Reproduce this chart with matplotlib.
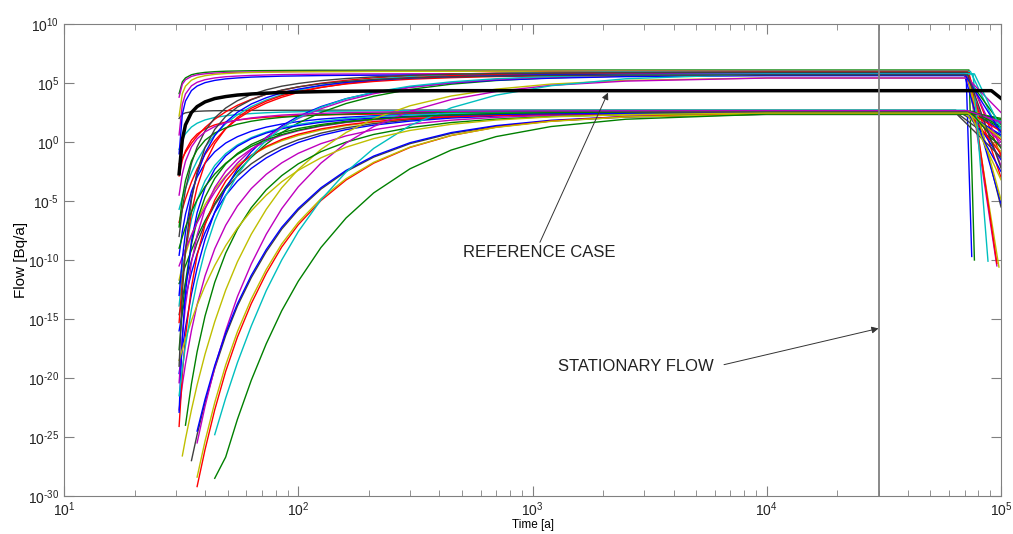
import numpy as np
import matplotlib.pyplot as plt
from matplotlib.ticker import NullLocator, FuncFormatter

plt.rcParams['font.family'] = ['Liberation Sans', 'DejaVu Sans']
plt.rcParams['axes.unicode_minus'] = False

# shared time grid [a]; curve values are log10(flow [Bq/a]), None = not started yet
t_grid = [31, 32, 33, 35, 37, 40, 44, 49, 55, 63, 73, 85, 100, 125, 160, 210,
          300, 450, 700, 1200, 2500, 10000]
N = None

curve_colors = ['g', 'm', 'y', 'k', 'm', 'c', 'b', 'r', 'r', 'c', 'r', 'k',
                'b', 'y', 'g', 'c', 'k', 'r', 'b', 'g', 'b', 'm', 'm', 'r',
                'b', 'y', 'g', 'k', 'm', 'b', 'r', 'y', 'c', 'g',
                'g', 'm', 'b', 'y', 'c', 'g', 'm', 'k']

rise_log = [
    [4.1, 5.1, 5.43, 5.7, 5.81, 5.9, 5.96, 6.0, 6.02, 6.04, 6.05, 6.06, 6.07, 6.08, 6.08, 6.09, 6.09, 6.1, 6.1, 6.1, 6.1, 6.1],
    [3.8, 4.9, 5.27, 5.56, 5.69, 5.78, 5.84, 5.88, 5.91, 5.93, 5.95, 5.96, 5.97, 5.98, 5.98, 5.99, 5.99, 6.0, 6.0, 6.0, 6.0, 6.0],
    [2.2, 4.1, 4.73, 5.24, 5.46, 5.62, 5.73, 5.8, 5.85, 5.89, 5.91, 5.93, 5.95, 5.96, 5.97, 5.98, 5.99, 5.99, 6.0, 6.0, 6.0, 6.0],
    [2.0, 2.35, 2.47, 2.56, 2.6, 2.63, 2.65, 2.66, 2.67, 2.68, 2.68, 2.69, 2.69, 2.7, 2.7, 2.7, 2.7, 2.7, 2.7, 2.7, 2.7, 2.7],
    [0.6, 3.2, 4.07, 4.76, 5.06, 5.28, 5.43, 5.53, 5.59, 5.64, 5.68, 5.71, 5.73, 5.75, 5.76, 5.77, 5.78, 5.79, 5.79, 5.8, 5.8, 5.8],
    [-0.63, 0.2, 0.7, 1.27, 1.59, 1.87, 2.08, 2.22, 2.33, 2.41, 2.48, 2.53, 2.56, 2.6, 2.62, 2.65, 2.66, 2.68, 2.69, 2.69, 2.7, 2.7],
    [-1.0, 2.35, 3.47, 4.36, 4.74, 5.03, 5.22, 5.35, 5.43, 5.5, 5.54, 5.58, 5.6, 5.63, 5.65, 5.66, 5.68, 5.68, 5.69, 5.69, 5.7, 5.7],
    [-2.88, -1.55, -0.75, 0.16, 0.67, 1.12, 1.45, 1.69, 1.86, 1.99, 2.1, 2.17, 2.23, 2.29, 2.33, 2.36, 2.39, 2.41, 2.43, 2.44, 2.45, 2.45],
    [-1.86, -1.33, -0.88, -0.11, 0.5, 1.22, 1.93, 2.56, 3.11, 3.61, 4.04, 4.38, 4.67, 4.98, 5.23, 5.43, 5.61, 5.75, 5.84, 5.91, 5.96, 5.99],
    [-5.7, -4.75, -3.92, -2.6, -1.59, -0.45, 0.62, 1.55, 2.31, 3.0, 3.56, 4.01, 4.39, 4.77, 5.08, 5.32, 5.54, 5.7, 5.81, 5.89, 5.95, 5.99],
    [-6.8, -5.71, -4.82, -3.39, -2.28, -1.05, 0.11, 1.12, 1.95, 2.69, 3.3, 3.79, 4.2, 4.62, 4.95, 5.21, 5.45, 5.62, 5.74, 5.83, 5.89, 5.94],
    [-8.0, -5.68, -4.03, -1.82, -0.42, 0.94, 2.04, 2.88, 3.5, 4.02, 4.42, 4.73, 4.96, 5.2, 5.38, 5.52, 5.65, 5.74, 5.8, 5.84, 5.87, 5.9],
    [-9.6, -7.58, -6.13, -4.2, -2.97, -1.79, -0.83, -0.09, 0.45, 0.91, 1.26, 1.52, 1.73, 1.94, 2.1, 2.22, 2.33, 2.41, 2.46, 2.5, 2.53, 2.55],
    [-11.7, -10.5, -9.5, -7.9, -6.67, -5.3, -4.0, -2.88, -1.96, -1.13, -0.45, 0.1, 0.55, 1.01, 1.39, 1.68, 1.94, 2.14, 2.27, 2.37, 2.44, 2.48],
    [-12.0, -11.22, -10.48, -9.17, -8.05, -6.67, -5.22, -3.8, -2.53, -1.3, -0.18, 0.79, 1.61, 2.5, 3.26, 3.88, 4.46, 4.9, 5.21, 5.44, 5.6, 5.71],
    [-13.9, -11.15, -9.19, -6.57, -4.9, -3.29, -1.99, -0.99, -0.25, 0.37, 0.84, 1.21, 1.49, 1.77, 1.98, 2.15, 2.3, 2.41, 2.48, 2.53, 2.57, 2.59],
    [-14.63, -13.19, -11.98, -10.05, -8.56, -6.9, -5.33, -3.97, -2.86, -1.85, -1.02, -0.36, 0.19, 0.75, 1.2, 1.56, 1.88, 2.11, 2.27, 2.39, 2.47, 2.53],
    [-15.3, -11.8, -9.3, -5.97, -3.84, -1.8, -0.14, 1.13, 2.08, 2.86, 3.46, 3.93, 4.28, 4.64, 4.92, 5.13, 5.32, 5.45, 5.55, 5.61, 5.66, 5.69],
    [-16.0, -14.45, -13.15, -11.07, -9.47, -7.68, -5.99, -4.52, -3.32, -2.24, -1.35, -0.63, -0.04, 0.56, 1.05, 1.43, 1.77, 2.03, 2.2, 2.33, 2.42, 2.48],
    [-17.6, -14.25, -11.86, -8.67, -6.64, -4.68, -3.09, -1.87, -0.97, -0.21, 0.36, 0.8, 1.14, 1.48, 1.75, 1.95, 2.13, 2.26, 2.35, 2.41, 2.46, 2.49],
    [-19.62, -17.51, -15.73, -12.89, -10.7, -8.25, -5.94, -3.94, -2.3, -0.83, 0.4, 1.37, 2.17, 3.0, 3.67, 4.19, 4.66, 5.0, 5.24, 5.41, 5.54, 5.62],
    [-20.4, -16.59, -13.86, -10.22, -7.91, -5.68, -3.86, -2.48, -1.45, -0.59, 0.06, 0.56, 0.95, 1.34, 1.65, 1.88, 2.08, 2.23, 2.33, 2.4, 2.45, 2.49],
    [-22.7, -20.58, -18.8, -15.98, -13.79, -11.35, -9.05, -7.06, -5.42, -3.95, -2.74, -1.77, -0.96, -0.14, 0.52, 1.04, 1.51, 1.85, 2.09, 2.26, 2.39, 2.47],
    [-24.1, -19.68, -16.52, -12.3, -9.62, -7.03, -4.93, -3.32, -2.13, -1.13, -0.38, 0.21, 0.66, 1.11, 1.46, 1.73, 1.97, 2.14, 2.25, 2.34, 2.4, 2.44],
    [-22.9, -16.55, -12.75, -8.42, -5.99, -3.88, -2.3, -1.17, -0.36, 0.28, 0.76, 1.12, 1.39, 1.67, 1.87, 2.03, 2.17, 2.27, 2.34, 2.39, 2.42, 2.44],
    [N, -26.6, -25.17, -22.7, -20.59, -17.98, -15.23, -12.55, -10.15, -7.82, -5.71, -3.88, -2.33, -0.63, 0.8, 1.97, 3.07, 3.9, 4.48, 4.91, 5.22, 5.43],
    [N, N, -24.0, -20.49, -17.78, -14.75, -11.89, -9.42, -7.39, -5.57, -4.05, -2.85, -1.85, -0.82, -0.01, 0.64, 1.22, 1.65, 1.94, 2.16, 2.31, 2.42],
    [N, N, N, -27.0, -24.8, -22.1, -19.2, -16.4, -13.9, -11.5, -9.3, -7.38, -5.76, -3.99, -2.5, -1.28, -0.14, 0.73, 1.33, 1.78, 2.11, 2.33],
    [N, N, N, N, -25.5, -22.4, -19.1, -16.0, -13.1, -10.34, -7.82, -5.65, -3.8, -1.79, -0.09, 1.31, 2.61, 3.6, 4.28, 4.8, 5.16, 5.42],
    [N, N, N, N, -24.5, -21.81, -18.95, -16.19, -13.71, -11.31, -9.12, -7.23, -5.63, -3.88, -2.41, -1.19, -0.06, 0.8, 1.39, 1.84, 2.16, 2.38],
    [N, N, N, N, -29.2, -26.07, -22.7, -19.44, -16.53, -13.7, -11.13, -8.9, -7.01, -4.96, -3.22, -1.79, -0.46, 0.55, 1.26, 1.78, 2.16, 2.41],
    [N, N, N, N, -28.4, -25.35, -22.08, -18.9, -16.07, -13.31, -10.81, -8.64, -6.81, -4.81, -3.11, -1.72, -0.43, 0.56, 1.24, 1.75, 2.12, 2.37],
    [N, N, N, N, N, N, -24.8, -21.7, -18.7, -15.6, -12.6, -10.0, -7.6, -4.9, -2.55, -0.54, 1.4, 2.9, 3.97, 4.77, 5.36, 5.77],
    [N, N, N, N, N, N, -28.5, -26.7, -23.5, -20.2, -17.1, -14.3, -11.8, -8.94, -6.44, -4.31, -2.27, -0.68, 0.46, 1.31, 1.93, 2.36],
    [-7.2, -4.75, -3.28, -1.6, -0.67, 0.15, 0.76, 1.2, 1.51, 1.76, 1.95, 2.09, 2.19, 2.3, 2.38, 2.44, 2.49, 2.53, 2.56, 2.58, 2.59, 2.6],
    [-10.5, -9.76, -9.08, -7.88, -6.85, -5.59, -4.25, -2.96, -1.79, -0.66, 0.36, 1.25, 2.0, 2.82, 3.52, 4.09, 4.62, 5.02, 5.3, 5.51, 5.66, 5.77],
    [-13.0, -9.88, -7.65, -4.67, -2.77, -0.94, 0.54, 1.67, 2.52, 3.22, 3.75, 4.17, 4.48, 4.8, 5.05, 5.24, 5.41, 5.53, 5.61, 5.67, 5.71, 5.74],
    [-18.5, -17.57, -16.68, -15.14, -13.82, -12.19, -10.47, -8.79, -7.29, -5.83, -4.51, -3.37, -2.4, -1.34, -0.44, 0.29, 0.98, 1.5, 1.86, 2.13, 2.32, 2.46],
    [-21.5, -19.2, -17.27, -14.2, -11.84, -9.2, -6.7, -4.55, -2.78, -1.19, 0.13, 1.18, 2.05, 2.94, 3.66, 4.22, 4.73, 5.1, 5.36, 5.55, 5.68, 5.77],
    [-9.0, -8.03, -7.21, -5.91, -4.9, -3.78, -2.72, -1.8, -1.05, -0.37, 0.19, 0.63, 1.0, 1.39, 1.69, 1.93, 2.14, 2.3, 2.41, 2.49, 2.55, 2.59],
    [-4.5, -2.71, -1.64, -0.41, 0.27, 0.86, 1.31, 1.63, 1.86, 2.04, 2.17, 2.28, 2.35, 2.43, 2.49, 2.53, 2.57, 2.6, 2.62, 2.63, 2.64, 2.65],
    [-19.0, -12.8, -9.12, -4.89, -2.53, -0.47, 1.07, 2.17, 2.96, 3.58, 4.05, 4.4, 4.67, 4.94, 5.14, 5.29, 5.43, 5.52, 5.59, 5.64, 5.67, 5.69],
]

# end of the plateau, and where each curve ends (time [a], log10 flow)
drop_start = [73000, 72000, 72000, 64000, 70000, 70000, 71000, 72000, 73000, 74000,
              72000, 72000, 75000, 70000, 70000, 72000, 64000, 71000, 74000, 75000,
              70000, 72000, 76000, 73000, 71000, 72000, 78000, 65000, 73000, 73000,
              75000, 74000, 76000, 80000, 76000, 69000, 70000, 72000, 77000, 74000,
              72000, 72000]
end_time = [77000, 96000, 98000, 100000, 100000, 100000, 75000, 100000, 96000, 100000,
            100000, 100000, 100000, 100000, 100000, 100000, 100000, 100000, 100000, 100000,
            100000, 100000, 100000, 100000, 100000, 100000, 100000, 100000, 100000, 100000,
            100000, 100000, 88000, 100000, 100000, 100000, 100000, 100000, 100000, 100000,
            100000, 100000]
end_log = [-10.0, -10.5, -10.6, 0.5, -2.0, 1.5, -9.7, 0.2, -10.3, 0.5,
           -1.2, -5.5, 1.0, -0.8, 1.5, 1.8, -0.3, -3.0, -1.5, 1.2,
           -5.2, 0.0, 1.6, -1.0, 0.6, -4.9, 2.0, -1.3, -0.5, -2.5,
           0.9, -3.2, -10.1, 1.9, 1.3, 2.5, 0.8, 0.3, 1.1, -0.5,
           1.7, -2.2]

# reference case (thick black)
ref_time = t_grid + [91000, 100000]
ref_log = [-2.7, 0.2, 1.45, 2.5, 3.0, 3.4, 3.68, 3.85, 3.98, 4.07, 4.14, 4.19,
           4.23, 4.27, 4.3, 4.32, 4.34, 4.35, 4.35, 4.35, 4.35, 4.35, 4.35, 3.7]

t_stationary = 3e4

MATLAB = {'b': '#0000ff', 'g': '#008000', 'r': '#ff0000', 'c': '#00bfbf',
          'm': '#bf00bf', 'y': '#bfbf00', 'k': '#404040'}


def pow10(v, pos):
    e = int(round(np.log10(v)))
    s = str(e).replace('-', '\u2010')
    return r'$\mathdefault{10^{%s}}$' % s


fig = plt.figure(figsize=(10.13, 5.34), dpi=100)
ax = fig.add_axes([64 / 1013, 1 - 496 / 534, 937 / 1013, 472 / 534])

for col, vals, td, te, ve in zip(curve_colors, rise_log, drop_start, end_time, end_log):
    tt = [t for t, v in zip(t_grid, vals) if v is not None]
    vv = [v for v in vals if v is not None]
    tt = tt + [td, te]
    vv = vv + [vv[-1], ve]
    ax.plot(tt, 10.0 ** np.array(vv), color=MATLAB[col], lw=1.0)

ax.plot(ref_time, 10.0 ** np.array(ref_log), color='k', lw=2.5, zorder=5)
ax.axvline(t_stationary, color='0.5', lw=1.3, zorder=6)

ax.set_xscale('log')
ax.set_yscale('log')
ax.set_xlim(10, 1e5)
ax.set_ylim(1e-30, 1e10)
ax.set_yticks([10.0 ** k for k in range(-30, 11, 5)])
ax.yaxis.set_minor_locator(NullLocator())
ax.yaxis.set_major_formatter(FuncFormatter(pow10))
ax.xaxis.set_major_formatter(FuncFormatter(pow10))

for s in ax.spines.values():
    s.set_color('#808080')
ax.tick_params(which='both', direction='in', top=True, right=True,
               color='#808080', labelsize=10, labelcolor='#222222')
ax.tick_params(which='major', length=7)
ax.tick_params(which='minor', length=4)

ax.set_xlabel('Time [a]', fontsize=8.5, labelpad=0)
ax.set_ylabel('Flow [Bq/a]', fontsize=11)
ax.yaxis.set_label_coords(-0.038, 0.5)

ax.text(505, 10 ** -9.38, 'REFERENCE CASE', fontsize=12, va='center', ha='left', color='#222222')
ax.annotate('', xy=(2100, 10 ** 4.18), xytext=(1076, 10 ** -8.5),
            arrowprops=dict(arrowstyle='-|>', color='#333333', lw=0.7,
                            shrinkA=0, shrinkB=0, mutation_scale=10))
ax.text(1285, 10 ** -19.04, 'STATIONARY FLOW', fontsize=12, va='center', ha='left', color='#222222')
ax.annotate('', xy=(t_stationary, 10 ** -15.8), xytext=(6570, 10 ** -18.87),
            arrowprops=dict(arrowstyle='-|>', color='#333333', lw=0.7,
                            shrinkA=0, shrinkB=0, mutation_scale=10))

fig.savefig('out.png', dpi=100)
